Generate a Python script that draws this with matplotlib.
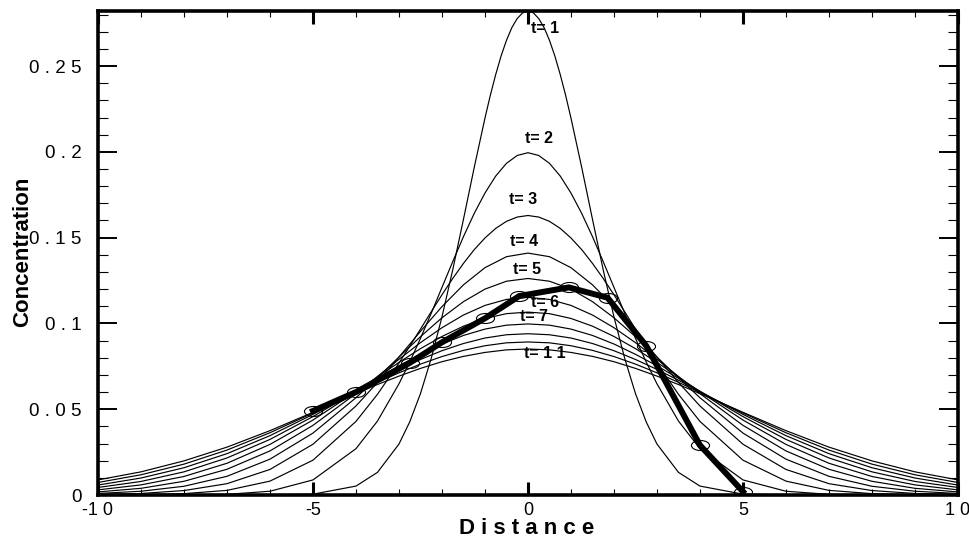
"""Concentration profiles c(x, t) of a spreading pulse, with one measured profile."""
import matplotlib
matplotlib.use("Agg")
import matplotlib.pyplot as plt
from matplotlib.path import Path
from matplotlib.ticker import MultipleLocator

plt.rcParams['font.family'] = ['Liberation Sans', 'DejaVu Sans']

# ---- data ---------------------------------------------------------------
# t = 1 is sampled finest near the peak
x_t1 = [-10, -9, -8, -7, -6, -5, -4, -3.5, -3, -2.75, -2.5, -2.25, -2, -1.75,
        -1.5, -1.25, -1, -0.875, -0.75, -0.625, -0.5, -0.375, -0.25, -0.125, 0,
        0.125, 0.25, 0.375, 0.5, 0.625, 0.75, 0.875, 1, 1.25, 1.5, 1.75, 2,
        2.25, 2.5, 2.75, 3, 3.5, 4, 5, 6, 7, 8, 9, 10]
c_t1 = [0.0, 0.0, 0.0, 0.0, 0.0, 0.0005, 0.0052, 0.0132, 0.0297, 0.0426,
        0.0591, 0.0796, 0.1038, 0.1312, 0.1607, 0.1909, 0.2197, 0.2330, 0.2451,
        0.2559, 0.2650, 0.2724, 0.2777, 0.2810, 0.2821, 0.2810, 0.2777, 0.2724,
        0.2650, 0.2559, 0.2451, 0.2330, 0.2197, 0.1909, 0.1607, 0.1312, 0.1038,
        0.0796, 0.0591, 0.0426, 0.0297, 0.0132, 0.0052, 0.0005, 0.0, 0.0, 0.0,
        0.0, 0.0]

# t = 2, 3 on a grid refined in the middle
x_fine = [-10, -9, -8, -7, -6, -5, -4, -3.5, -3, -2.75, -2.5, -2.25, -2, -1.75,
          -1.5, -1.25, -1, -0.75, -0.5, -0.25, 0, 0.25, 0.5, 0.75, 1, 1.25,
          1.5, 1.75, 2, 2.25, 2.5, 2.75, 3, 3.5, 4, 5, 6, 7, 8, 9, 10]
c_t2 = [0.0, 0.0, 0.0001, 0.0004, 0.0022, 0.0088, 0.0270, 0.0431, 0.0648,
        0.0775, 0.0913, 0.1059, 0.1210, 0.1360, 0.1506, 0.1641, 0.1760, 0.1859,
        0.1933, 0.1979, 0.1995, 0.1979, 0.1933, 0.1859, 0.1760, 0.1641, 0.1506,
        0.1360, 0.1210, 0.1059, 0.0913, 0.0775, 0.0648, 0.0431, 0.0270, 0.0088,
        0.0022, 0.0004, 0.0001, 0.0, 0.0]
c_t3 = [0.0, 0.0002, 0.0008, 0.0027, 0.0081, 0.0203, 0.0429, 0.0587, 0.0769,
        0.0867, 0.0967, 0.1068, 0.1167, 0.1262, 0.1350, 0.1430, 0.1498, 0.1554,
        0.1595, 0.1620, 0.1629, 0.1620, 0.1595, 0.1554, 0.1498, 0.1430, 0.1350,
        0.1262, 0.1167, 0.1068, 0.0967, 0.0867, 0.0769, 0.0587, 0.0429, 0.0203,
        0.0081, 0.0027, 0.0008, 0.0002, 0.0]

x_grid = [-10, -9, -8, -7, -6, -5, -4, -3.5, -3, -2.5, -2, -1.5, -1, -0.5, 0,
          0.5, 1, 1.5, 2, 2.5, 3, 3.5, 4, 5, 6, 7, 8, 9, 10]
c_t4 = [0.0003, 0.0009, 0.0026, 0.0066, 0.0149, 0.0296, 0.0519, 0.0656, 0.0804,
        0.0954, 0.1098, 0.1225, 0.1325, 0.1389, 0.1410, 0.1389, 0.1325, 0.1225,
        0.1098, 0.0954, 0.0804, 0.0656, 0.0519, 0.0296, 0.0149, 0.0066, 0.0026,
        0.0009, 0.0003]
c_t5 = [0.0009, 0.0022, 0.0051, 0.0109, 0.0209, 0.0361, 0.0567, 0.0684, 0.0804,
        0.0923, 0.1033, 0.1127, 0.1200, 0.1246, 0.1262, 0.1246, 0.1200, 0.1127,
        0.1033, 0.0923, 0.0804, 0.0684, 0.0567, 0.0361, 0.0209, 0.0109, 0.0051,
        0.0022, 0.0009]
c_t6 = [0.0018, 0.0039, 0.0080, 0.0150, 0.0257, 0.0406, 0.0591, 0.0691, 0.0791,
        0.0888, 0.0975, 0.1049, 0.1105, 0.1140, 0.1152, 0.1140, 0.1105, 0.1049,
        0.0975, 0.0888, 0.0791, 0.0691, 0.0591, 0.0406, 0.0257, 0.0150, 0.0080,
        0.0039, 0.0018]
c_t7 = [0.0030, 0.0059, 0.0108, 0.0185, 0.0295, 0.0437, 0.0602, 0.0688, 0.0773,
        0.0853, 0.0924, 0.0984, 0.1029, 0.1057, 0.1066, 0.1057, 0.1029, 0.0984,
        0.0924, 0.0853, 0.0773, 0.0688, 0.0602, 0.0437, 0.0295, 0.0185, 0.0108,
        0.0059, 0.0030]
c_t8 = [0.0044, 0.0079, 0.0135, 0.0216, 0.0324, 0.0457, 0.0605, 0.0680, 0.0753,
        0.0820, 0.0880, 0.0930, 0.0967, 0.0990, 0.0997, 0.0990, 0.0967, 0.0930,
        0.0880, 0.0820, 0.0753, 0.0680, 0.0605, 0.0457, 0.0324, 0.0216, 0.0135,
        0.0079, 0.0044]
c_t9 = [0.0058, 0.0099, 0.0159, 0.0241, 0.0346, 0.0470, 0.0603, 0.0669, 0.0732,
        0.0790, 0.0841, 0.0883, 0.0915, 0.0934, 0.0940, 0.0934, 0.0915, 0.0883,
        0.0841, 0.0790, 0.0732, 0.0669, 0.0603, 0.0470, 0.0346, 0.0241, 0.0159,
        0.0099, 0.0058]
c_t10 = [0.0073, 0.0118, 0.0180, 0.0262, 0.0363, 0.0478, 0.0598, 0.0657, 0.0712,
         0.0763, 0.0807, 0.0843, 0.0870, 0.0887, 0.0892, 0.0887, 0.0870, 0.0843,
         0.0807, 0.0763, 0.0712, 0.0657, 0.0598, 0.0478, 0.0363, 0.0262, 0.0180,
         0.0118, 0.0073]
c_t11 = [0.0088, 0.0135, 0.0199, 0.0279, 0.0375, 0.0482, 0.0591, 0.0644, 0.0693,
         0.0738, 0.0777, 0.0808, 0.0831, 0.0846, 0.0851, 0.0846, 0.0831, 0.0808,
         0.0777, 0.0738, 0.0693, 0.0644, 0.0591, 0.0482, 0.0375, 0.0279, 0.0199,
         0.0135, 0.0088]

# measured profile (thick line with open ellipse markers)
x_meas = [-5, -4, -2.75, -2, -1, -0.2, 0.95, 1.85, 2.75, 4.0, 5.0]
c_meas = [0.049, 0.060, 0.077, 0.089, 0.103, 0.116, 0.121, 0.115, 0.087, 0.029, 0.002]

# curve labels: text, x, y
label_text = ["t= 1", "t= 2", "t= 3", "t= 4", "t= 5", "t= 6", "t= 7", "t= 1 1"]
label_x = [0.40, 0.26, -0.12, -0.09, -0.03, 0.40, 0.14, 0.40]
label_y = [0.272, 0.2075, 0.172, 0.148, 0.1315, 0.112, 0.1043, 0.0822]

x_ticks = [-10, -5, 0, 5, 10]
x_ticklabels = ["-1 0", "-5", "0", "5", "1 0"]
y_ticks = [0, 0.05, 0.1, 0.15, 0.2, 0.25]
y_ticklabels = ["0", "0 . 0 5", "0 . 1", "0 . 1 5", "0 . 2", "0 . 2 5"]

# ---- figure ---------------------------------------------------------------
fig = plt.figure(figsize=(9.7, 5.41), dpi=100)
ax = fig.add_axes([0.101, 0.085, 0.8866, 0.8947])

ax.plot(x_t1, c_t1, color="black", lw=0.85)
for c in (c_t2, c_t3):
    ax.plot(x_fine, c, color="black", lw=0.85)
for c in (c_t4, c_t5, c_t6, c_t7, c_t8, c_t9, c_t10, c_t11):
    ax.plot(x_grid, c, color="black", lw=0.85)

circ = Path.unit_circle()
ellipse = Path(circ.vertices * [1.8, 1.0], circ.codes)
ax.plot(x_meas, c_meas, linestyle="none", marker=ellipse, markersize=13,
        markerfacecolor="none", markeredgecolor="black", markeredgewidth=0.8)
ax.plot(x_meas, c_meas, color="black", lw=4.3, solid_joinstyle="miter")

for txt, lx, ly in zip(label_text, label_x, label_y):
    ax.text(lx, ly, txt, ha="center", va="center", fontsize=11.5, fontweight="bold")

ax.set_xlim(-10, 10)
ax.set_ylim(0, 0.2821)
ax.set_xticks(x_ticks, labels=x_ticklabels)
ax.set_yticks(y_ticks, labels=y_ticklabels)
ax.xaxis.set_minor_locator(MultipleLocator(1))
ax.yaxis.set_minor_locator(MultipleLocator(0.01))

ax.tick_params(axis="x", which="major", direction="in", length=9.4, width=2.2,
               top=True, pad=5, labelsize=13)
ax.tick_params(axis="x", which="minor", direction="in", length=4.3, width=0.8, top=True)
ax.tick_params(axis="y", which="major", direction="in", length=13.7, width=1.4,
               right=True, pad=12, labelsize=13.5)
ax.tick_params(axis="y", which="minor", direction="in", length=7.2, width=0.8, right=True)
for sp in ax.spines.values():
    sp.set_linewidth(2.6)

fig.text(0.543, 0.024, "D i s t a n c e", ha="center", va="center",
         fontsize=16, fontweight="bold")
fig.text(0.023, 0.534, "Concentration", ha="center", va="center",
         rotation=90, fontsize=16, fontweight="bold")

fig.savefig("out.png", dpi=100)
